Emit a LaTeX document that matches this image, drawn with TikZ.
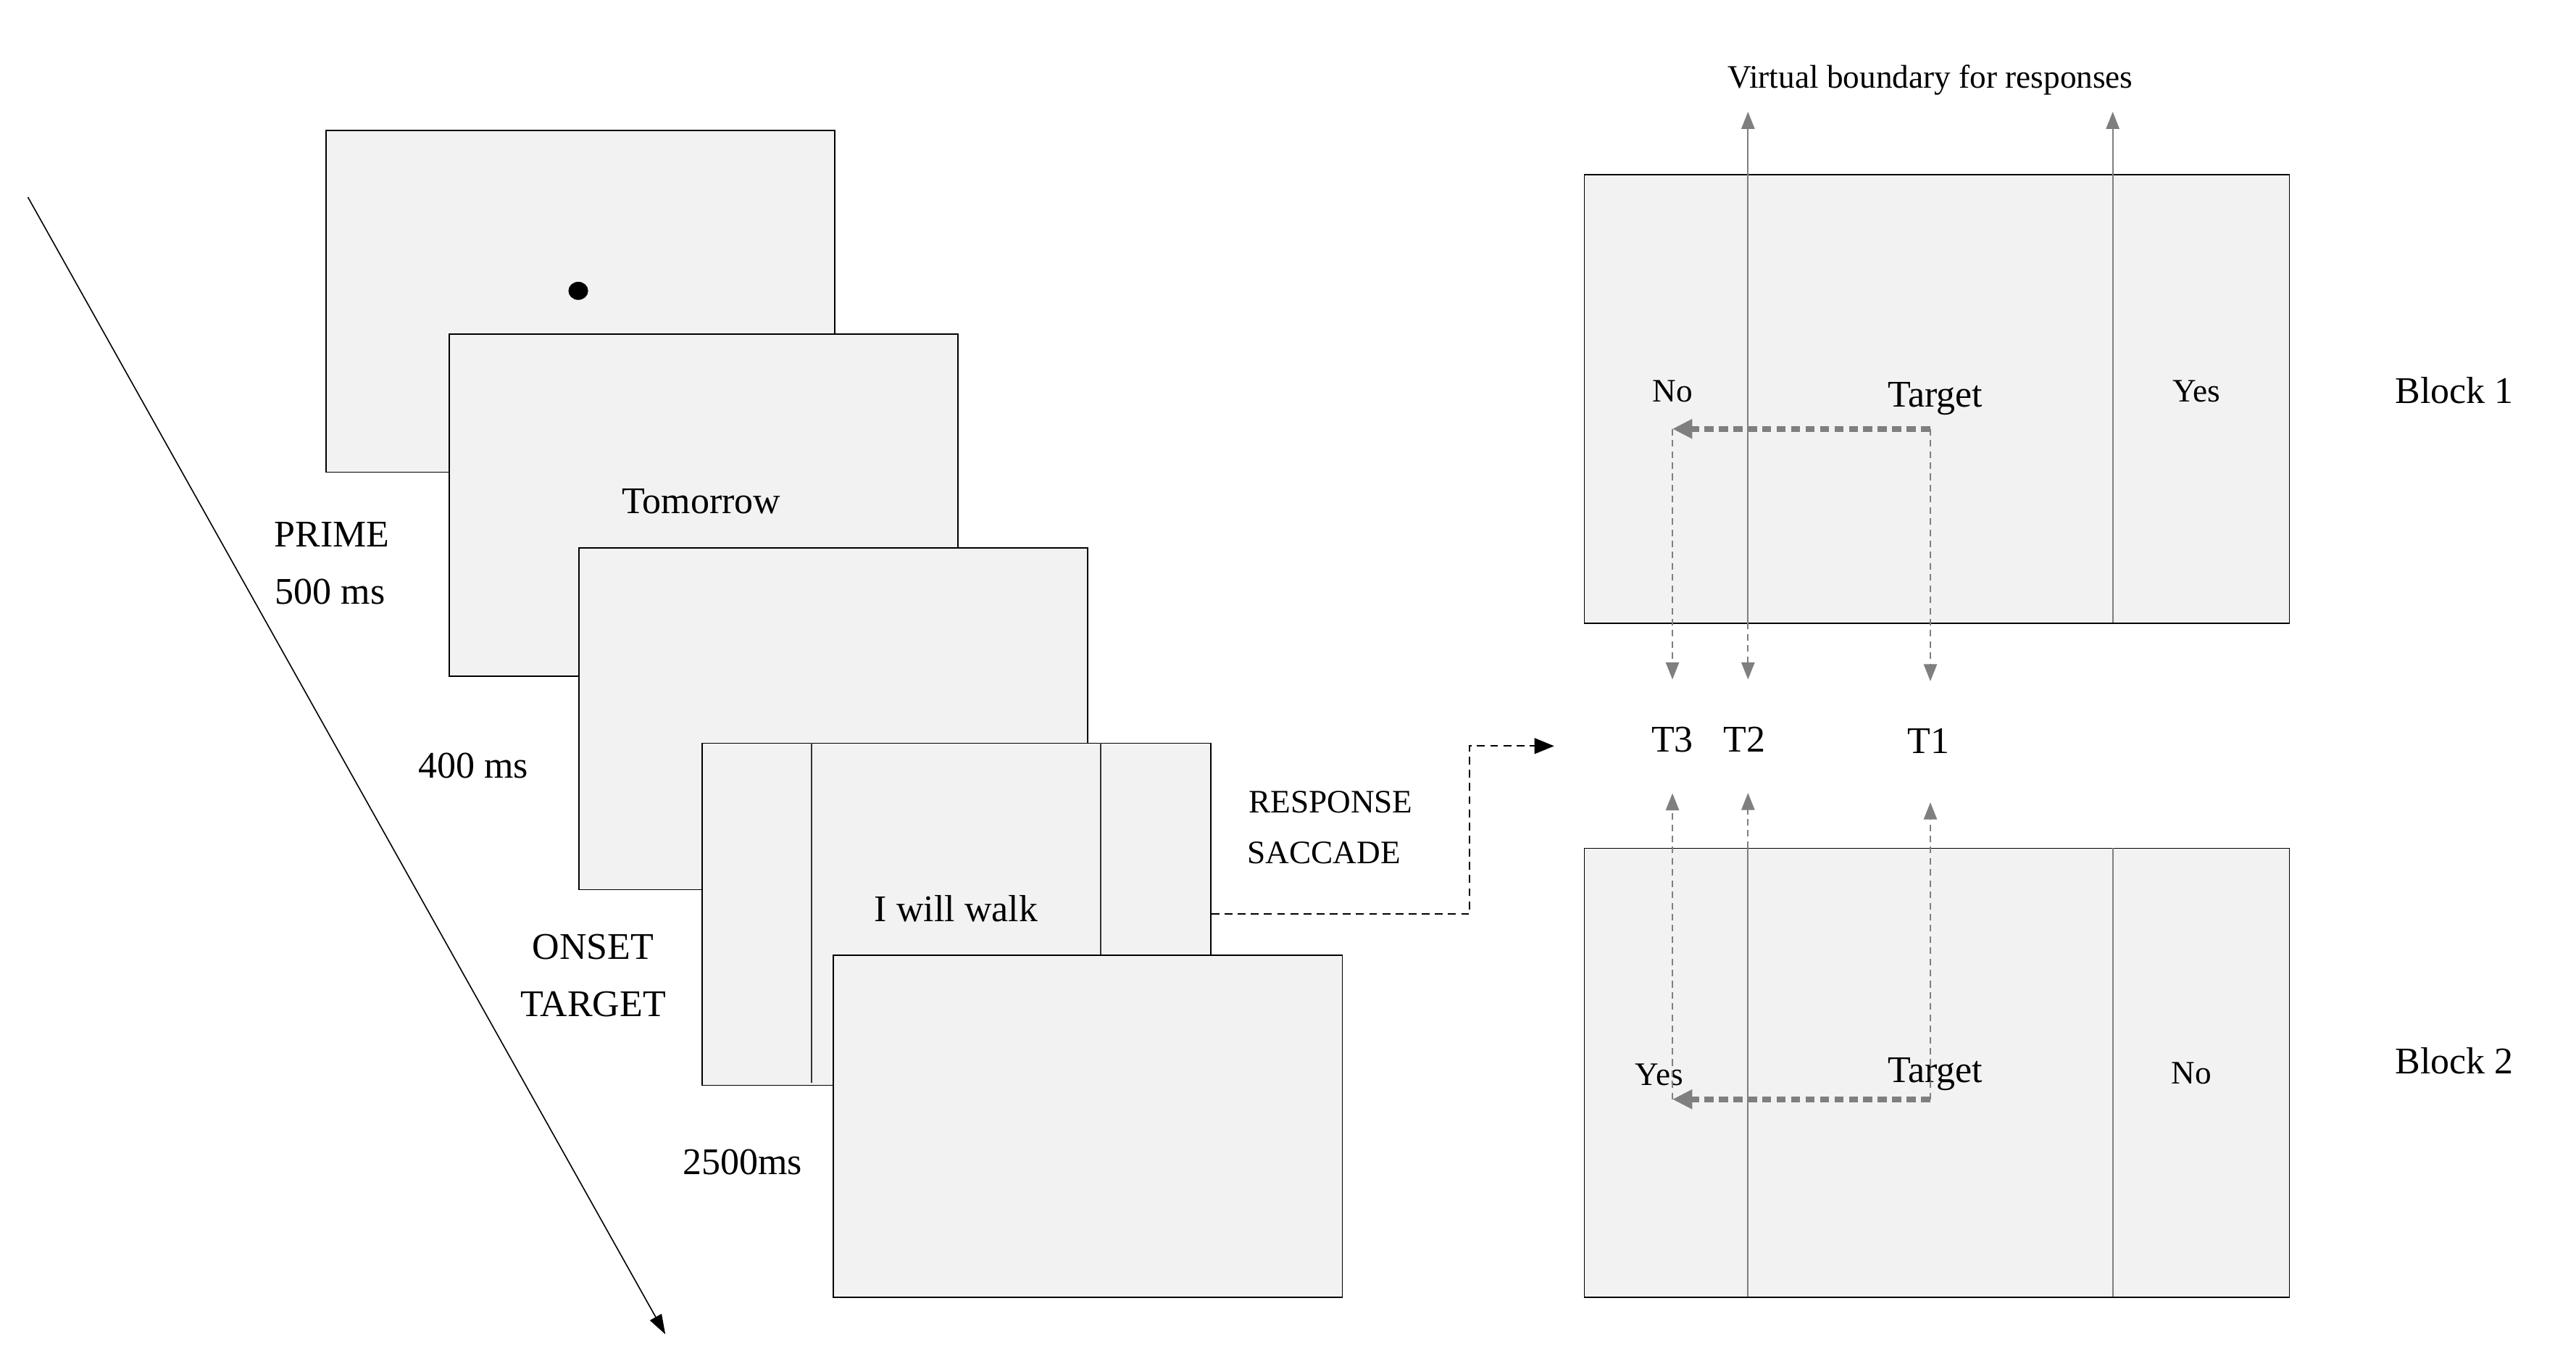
\documentclass[tikz,border=0pt]{standalone}
\usepackage{fontspec}
\setmainfont{Liberation Serif}
\usetikzlibrary{arrows.meta,calc}
\definecolor{scr}{HTML}{F2F2F2}
\definecolor{gline}{HTML}{7F7F7F}
\begin{document}
\begin{tikzpicture}[x=0.025cm,y=-0.025cm,
  screen/.style={draw=black, line width=0.5pt, fill=scr, inner sep=0pt, minimum width=7.74cm, minimum height=5.2cm, anchor=north west},
  blockbox/.style={draw=black, line width=0.5pt, fill=scr, inner sep=0pt, minimum width=10.725cm, minimum height=6.825cm, anchor=north west},
  big/.style={font=\fontsize{16.3}{19}\selectfont, inner sep=1pt, anchor=base},
  small/.style={font=\fontsize{14.2}{17}\selectfont, inner sep=1pt, anchor=base},
  bound/.style={draw=gline, line width=0.7pt},
  boundarrow/.style={bound, -{Triangle[length=0.26cm,width=0.2cm]}},
  garrow/.style={draw=gline, line width=0.7pt, dash pattern=on 0.1cm off 0.07cm, -{Triangle[length=0.26cm,width=0.2cm]}},
  thickarrow/.style={draw=gline, line width=0.09cm, dash pattern=on 0.14cm off 0.08cm, -{Triangle[length=0.3cm,width=0.28cm]}},
  timearrow/.style={draw=black, line width=0.5pt, -{Triangle[length=0.3cm,width=0.2cm]}},
  saccade/.style={draw=black, line width=0.6pt, dash pattern=on 0.12cm off 0.08cm, -{Triangle[length=0.3cm,width=0.24cm]}}
]
\useasboundingbox (0,0) rectangle (1568,830);

% time axis
\coordinate (tstart) at (17,120);
\coordinate (tend) at (405,812);
\draw[timearrow] (tstart) -- (tend);

% screens
\node[screen] (s1) at (198,79) {};
\fill[black] (352,177) ellipse [x radius=6, y radius=5.5];
\node[screen] (s2) at (273,203) {};
\node[big] (tomorrow) at (427,312.6) {Tomorrow};
\node[screen] (s3) at (352,333) {};
\node[screen] (s4) at (427,452) {};
\draw[black!80, line width=0.5pt] (494,452) -- (494,659);
\draw[black!80, line width=0.5pt] (670,452) -- (670,659);
\node[big] (walk) at (582,560.6) {I will walk};
\node[screen] (s5) at (507,581) {};

% left labels
\node[big] (prime) at (202,332.6) {PRIME};
\node[big] (ms500) at (201,367.6) {500 ms};
\node[big] (ms400) at (288,473.6) {400 ms};
\node[big] (onset) at (361,583.6) {ONSET};
\node[big] (target) at (361,618.6) {TARGET};
\node[big] (ms2500) at (452,714.6) {2500ms};
\node[small] (resp) at (810,494.6) {RESPONSE};
\node[small] (sacc) at (806,525.6) {SACCADE};

% response saccade arrow
\coordinate (rsTip) at (946,454);
\draw[saccade] (s4.east) -- ++(157,0) |- (rsTip);

% right blocks
\node[small] (virt) at (1175,53.6) {Virtual boundary for responses};
\node[blockbox] (b1) at (964,106) {};
\node[blockbox] (b2) at (964,516) {};

\coordinate (vbA) at (1064,68);
\coordinate (vbB) at (1286,68);
\draw[boundarrow] (1064,379) -- (vbA);
\draw[boundarrow] (1286,379) -- (vbB);
\draw[bound] (1064,516) -- (1064,789);
\draw[bound] (1286,516) -- (1286,789);

% block 1 texts
\node[small] (no1) at (1018,244.6) {No};
\node[big] (tg1t) at (1178,247.6) {Target};
\node[small] (yes1) at (1337,244.6) {Yes};
\node[big] (blk1) at (1494,245.6) {Block 1};

% block 2 texts
\node[small] (yes2) at (1010,660.6) {Yes};
\node[big] (tg2t) at (1178,658.6) {Target};
\node[small] (no2) at (1334,659.6) {No};
\node[big] (blk2) at (1494,653.6) {Block 2};

% T labels
\node[big] (t3) at (1018,457.6) {T3};
\node[big] (t2) at (1062,457.6) {T2};
\node[big] (t1) at (1174,458.6) {T1};

% block 1 movement
\coordinate (tgA) at (1175,261);
\coordinate (noA) at (1018,261);
\coordinate (bA) at (1064,379);
\draw[garrow, shorten >=0.68cm] (tgA) -- (tgA |- t1.north);
\draw[garrow, shorten >=0.68cm] (noA) -- (noA |- t3.north);
\draw[garrow, shorten >=0.68cm] (bA) -- (bA |- t2.north);
\draw[thickarrow] (tgA) -- (noA);

% block 2 movement
\coordinate (tgB) at (1175,669);
\coordinate (yesB) at (1018,669);
\coordinate (bB) at (1064,516);
\draw[garrow, shorten >=0.58cm] (yesB) -- (yesB |- t3.south);
\draw[garrow, shorten >=0.58cm] (bB) -- (bB |- t2.south);
\draw[garrow, shorten >=0.7cm] (tgB) -- (tgB |- t1.south);
\draw[thickarrow] (tgB) -- (yesB);
\end{tikzpicture}
\end{document}
